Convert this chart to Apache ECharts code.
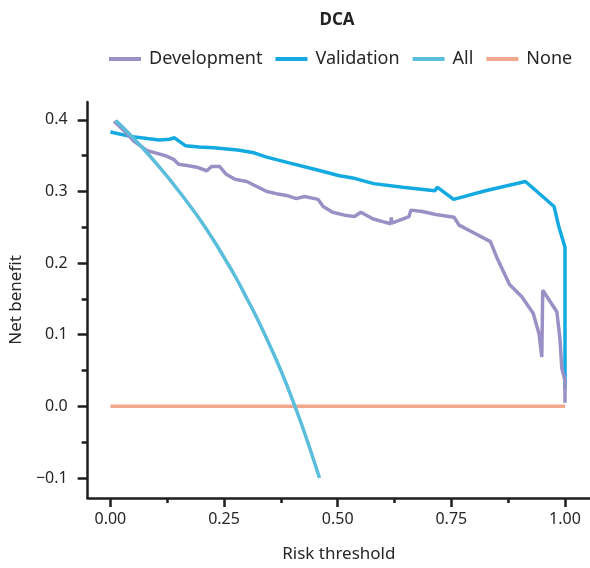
<!DOCTYPE html>
<html>
<head>
<meta charset="utf-8">
<script src="https://cdn.jsdelivr.net/npm/echarts@6/dist/echarts.min.js"></script>
<style>html,body{margin:0;padding:0;background:#fff}#c{width:590px;height:568px}</style>
</head>
<body>
<div id="c"></div>
<script>
const seriesNames = ['Development', 'Validation', 'All', 'None'];
const xTicks = [0, 0.25, 0.5, 0.75, 1];
const xMinorTicks = [0.125, 0.375, 0.625, 0.875];
const yTicks = [-0.1, 0, 0.1, 0.2, 0.3, 0.4];
const yMinorTicks = [-0.05, 0.05, 0.15, 0.25, 0.35];

const devX = [0.008,0.03,0.052,0.081,0.099,0.121,0.139,0.150,0.172,0.190,0.212,0.223,0.240,0.255,0.274,0.300,0.322,0.344,0.365,0.391,0.409,0.427,0.457,0.468,0.489,0.515,0.537,0.551,0.577,0.599,0.617,0.618,0.619,0.657,0.661,0.686,0.716,0.756,0.767,0.800,0.836,0.850,0.878,0.905,0.930,0.943,0.949,0.951,0.982,0.989,0.993,1.0,1.0];
const devY = [0.398,0.385,0.370,0.357,0.354,0.350,0.345,0.338,0.336,0.334,0.329,0.335,0.335,0.324,0.317,0.314,0.307,0.300,0.297,0.294,0.290,0.293,0.289,0.279,0.271,0.267,0.265,0.271,0.262,0.258,0.255,0.264,0.256,0.265,0.274,0.272,0.268,0.264,0.253,0.242,0.230,0.208,0.170,0.153,0.130,0.101,0.069,0.162,0.132,0.094,0.053,0.036,0.005];

const valX = [0.0,0.044,0.081,0.107,0.130,0.141,0.165,0.195,0.227,0.280,0.316,0.344,0.393,0.449,0.504,0.533,0.579,0.643,0.714,0.719,0.755,0.825,0.913,0.976,0.986,1.0,1.0];
const valY = [0.383,0.377,0.374,0.372,0.373,0.375,0.364,0.362,0.361,0.358,0.354,0.348,0.340,0.331,0.322,0.319,0.311,0.306,0.301,0.306,0.289,0.301,0.314,0.279,0.252,0.222,0.023];

const allX = [0.012,0.03,0.05,0.075,0.1,0.125,0.15,0.175,0.2,0.225,0.25,0.275,0.3,0.325,0.35,0.375,0.4,0.425,0.46];
const allY = [0.399,0.388,0.375,0.358,0.340,0.321,0.301,0.280,0.258,0.234,0.208,0.181,0.151,0.120,0.086,0.050,0.010,-0.033,-0.100];

const noneX = [0, 1];
const noneY = [0, 0];

const colors = ['#9b90c5', '#13a9e1', '#5bbddc', '#f3a88d'];
const zip = (a, b) => a.map((v, i) => [v, b[i]]);
const font = "'Noto Sans', 'Open Sans', sans-serif";
const txt = '#262626';
const axisCol = '#1e1e1e';

const chart = echarts.init(document.getElementById('c'), null, {renderer: 'canvas'});
const baseX = {
  type: 'value', min: -0.05, max: 1.055, gridIndex: 0,
  splitLine: {show: false}
};
const baseY = {
  type: 'value', min: -0.128, max: 0.425, gridIndex: 0,
  splitLine: {show: false}
};
chart.setOption({
  animation: false,
  backgroundColor: '#fff',
  title: {
    text: 'DCA', left: 332, top: 7, textAlign: 'center',
    textStyle: {fontFamily: font, fontWeight: 'bold', fontSize: 17, color: '#222'}
  },
  legend: {
    data: seriesNames, left: 104, top: 45, icon: 'rect', itemWidth: 32, itemHeight: 4,
    itemGap: 13,
    textStyle: {fontFamily: font, fontSize: 18, color: txt, padding: [0, 0, 0, 3]}
  },
  grid: {left: 85, right: 0, top: 102, bottom: 62, containLabel: false},
  xAxis: [
    Object.assign({}, baseX, {
      name: 'Risk threshold', nameLocation: 'middle', nameGap: 48,
      nameTextStyle: {fontFamily: font, fontSize: 17, color: txt},
      axisLine: {show: true, onZero: false, lineStyle: {color: axisCol, width: 2.5}},
      axisTick: {show: true, customValues: xTicks, length: 9, lineStyle: {color: axisCol, width: 2.5}},
      axisLabel: {customValues: xTicks, fontFamily: font, fontSize: 16, color: txt, margin: 13,
        formatter: v => v.toFixed(2)}
    }),
    Object.assign({}, baseX, {
      position: 'bottom',
      axisLine: {show: false, onZero: false},
      axisTick: {show: true, customValues: xMinorTicks, length: 5, lineStyle: {color: axisCol, width: 2.5}},
      axisLabel: {show: false}
    })
  ],
  yAxis: [
    Object.assign({}, baseY, {
      name: 'Net benefit', nameLocation: 'middle', nameGap: 57,
      nameTextStyle: {fontFamily: font, fontSize: 17, color: txt},
      axisLine: {show: true, onZero: false, lineStyle: {color: axisCol, width: 2.5}},
      axisTick: {show: true, customValues: yTicks, length: 10, lineStyle: {color: axisCol, width: 2.5}},
      axisLabel: {customValues: yTicks, fontFamily: font, fontSize: 16, color: txt, margin: 20,
        formatter: v => v.toFixed(1).replace('-', '\u2212')}
    }),
    Object.assign({}, baseY, {
      position: 'left',
      axisLine: {show: false, onZero: false},
      axisTick: {show: true, customValues: yMinorTicks, length: 6, lineStyle: {color: axisCol, width: 2.5}},
      axisLabel: {show: false}
    })
  ],
  series: [
    {name: 'Development', type: 'line', data: zip(devX, devY), showSymbol: false, symbol: 'none',
      lineStyle: {width: 3.5, color: colors[0]}, itemStyle: {color: colors[0]}, z: 3},
    {name: 'Validation', type: 'line', data: zip(valX, valY), showSymbol: false, symbol: 'none',
      lineStyle: {width: 3.5, color: colors[1]}, itemStyle: {color: colors[1]}, z: 2},
    {name: 'All', type: 'line', data: zip(allX, allY), showSymbol: false, symbol: 'none', smooth: true,
      lineStyle: {width: 3.5, color: colors[2]}, itemStyle: {color: colors[2]}, z: 4},
    {name: 'None', type: 'line', data: zip(noneX, noneY), showSymbol: false, symbol: 'none',
      lineStyle: {width: 3.5, color: colors[3]}, itemStyle: {color: colors[3]}, z: 1}
  ]
});
</script>
</body>
</html>
